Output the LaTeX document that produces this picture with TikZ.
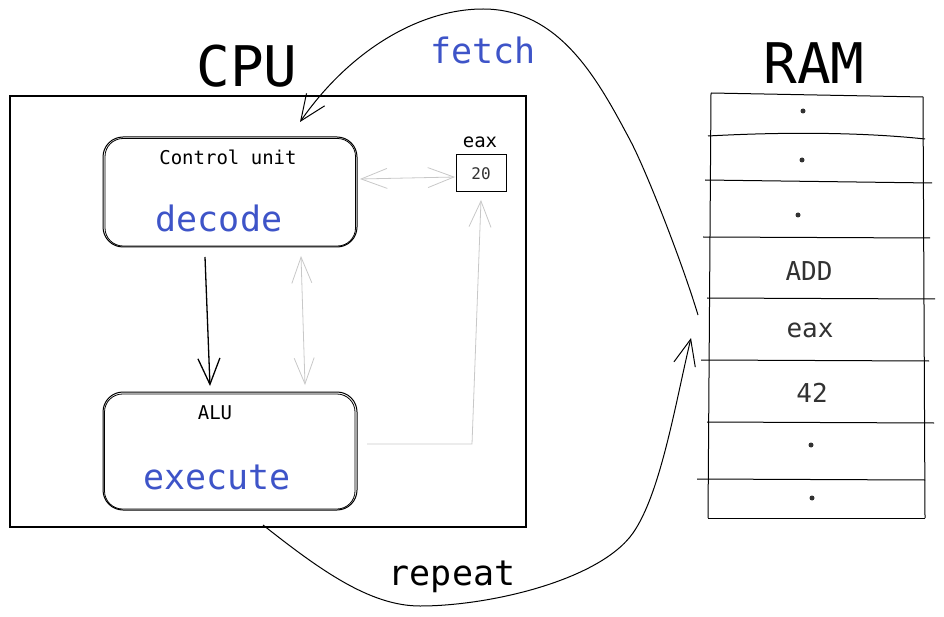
\documentclass[tikz,border=0pt]{standalone}
\usepackage{fontspec}
\setmonofont{DejaVu Sans Mono}
\usetikzlibrary{arrows.meta}
\definecolor{accent}{RGB}{62,84,200}
\definecolor{soft}{RGB}{200,200,200}
\definecolor{ink}{RGB}{50,50,50}
\begin{document}
\begin{tikzpicture}[x=1pt,y=-1pt,
  every node/.style={font=\ttfamily},
  roundbox/.style={draw, rounded corners=20pt, line width=1pt, minimum width=254pt, inner sep=0pt},
  sketch/.style={rounded corners=18pt, line width=0.8pt},
  barb/.style={-{Straight Barb[length=26pt,width=22pt]}},
  dbarb/.style={{Straight Barb[length=26pt,width=20pt]}-{Straight Barb[length=26pt,width=20pt]}},
  title/.style={font=\ttfamily\fontsize{56}{56}\selectfont},
  big/.style={font=\ttfamily\fontsize{35}{35}\selectfont},
  small/.style={font=\ttfamily\fontsize{19}{19}\selectfont},
  cell/.style={font=\ttfamily\fontsize{26}{26}\selectfont, text=ink},
  ramline/.style={line width=1pt},
  dot/.style={circle, fill=ink, inner sep=0pt, minimum size=5pt}
]
\useasboundingbox (0,0) rectangle (944,617);

% CPU
\node[draw, line width=1.2pt, minimum width=516pt, minimum height=431pt, inner sep=0pt] (cpu) at (268,311.5) {};
\node[title] (cputitle) at (247,66) {CPU};

% Control unit
\node[roundbox, minimum height=110pt] (cu) at (230,192) {};
\draw[sketch] ([shift={(2.5,2)}]cu.north west) rectangle ([shift={(-2,-1.5)}]cu.south east);
\node[small] (cutext) at (228,157) {Control unit};
\node[big, text=accent] (decode) at (219,218) {decode};

% ALU
\node[roundbox, minimum height=118pt] (alu) at (230,451) {};
\draw[sketch] ([shift={(2,2.5)}]alu.north west) rectangle ([shift={(-2.5,-1.5)}]alu.south east);
\node[small] (alutext) at (215,413) {ALU};
\node[big, text=accent] (execute) at (217,477) {execute};

% eax register
\node[small] (eaxlabel) at (480,142) {eax};
\node[draw, line width=1pt, minimum width=50pt, minimum height=37pt, inner sep=0pt, text=ink,
      font=\ttfamily\fontsize{16}{16}\selectfont] (eaxbox) at (481,173.5) {20};

% internal connectors
\coordinate (cuB) at (205,257);
\coordinate (aluT) at (210,386);
\draw[barb, line width=1.3pt] (cuB) -- (aluT);

\coordinate (cuB2) at (301,256);
\coordinate (aluT2) at (305,385);
\draw[dbarb, soft, line width=0.8pt] (cuB2) -- (aluT2);

\coordinate (cuR) at (360,179);
\coordinate (eaxL) at (455,177);
\draw[dbarb, soft, line width=0.8pt] (cuR) -- (eaxL);

\coordinate (aluR) at (367,444);
\coordinate (bend) at (472,444);
\coordinate (eaxB) at (481,200);
\draw[barb, soft, line width=0.8pt] (aluR) -- (bend) -- (eaxB);

% RAM
\node[title] (ramtitle) at (814,63) {RAM};
\coordinate (ramTL) at (711,93);
\coordinate (ramTR) at (923,97);
\coordinate (ramBL) at (708,518);
\coordinate (ramBR) at (925,518);
\draw[ramline] (ramTL) -- (ramTR);
\draw[ramline] (ramTL) -- (ramBL);
\draw[ramline] (ramTR) -- (ramBR);
\draw[ramline] (ramBL) -- (ramBR);
\draw[ramline] (708,136) .. controls (780,132) and (860,132) .. (925,139);
\draw[ramline] (705,180) -- (932,183);
\draw[ramline] (703,237) -- (930,238);
\draw[ramline] (707,298) -- (935,299);
\draw[ramline] (701,360) -- (929,361);
\draw[ramline] (707,422) -- (934,423);
\draw[ramline] (697,479) -- (925,480);

\node[dot] (c1) at (803,111) {};
\node[dot] (c2) at (802,160) {};
\node[dot] (c3) at (798,215) {};
\node[cell] (c4) at (809,271) {ADD};
\node[cell] (c5) at (810,330) {eax};
\node[cell] (c6) at (812,393) {42};
\node[dot] (c7) at (811,445) {};
\node[dot] (c8) at (812,498) {};

% fetch
\coordinate (fetchstart) at (698,315);
\coordinate (fetchend) at (300,122);
\draw[barb, line width=1pt] (fetchstart) .. controls (682,262) and (646,170) .. (630,140)
   .. controls (598,80) and (560,9) .. (483,9)
   .. controls (420,9) and (350,50) .. (fetchend);
\node[big, text=accent] (fetch) at (483,50) {fetch};

% repeat
\coordinate (repstart) at (263,525);
\coordinate (repend) at (691,338);
\draw[barb, line width=1pt] (repstart) .. controls (320,570) and (370,606) .. (420,606)
   .. controls (490,606) and (600,580) .. (633,533)
   .. controls (661,493) and (676,400) .. (repend);
\node[big, anchor=base] (repeat) at (452,585) {repeat};
\end{tikzpicture}
\end{document}
